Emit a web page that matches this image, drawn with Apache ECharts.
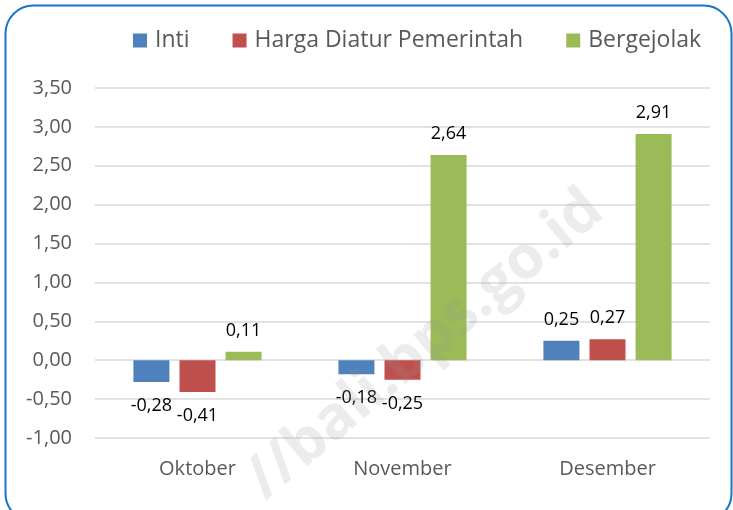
<!DOCTYPE html>
<html>
<head>
<meta charset="utf-8">
<script src="https://cdn.jsdelivr.net/npm/echarts@6/dist/echarts.min.js"></script>
<style>
    html, body { margin: 0; padding: 0; background: #fff; }
    #chart { width: 733px; height: 510px; }
</style>
</head>
<body>
<div id="chart"></div>
<script>
// data
var months = ['Oktober', 'November', 'Desember'];
var seriesNames = ['Inti', 'Harga Diatur Pemerintah', 'Bergejolak'];
var inti = [-0.28, -0.18, 0.25];
var hargaDiatur = [-0.41, -0.25, 0.27];
var bergejolak = [0.11, 2.64, 2.91];

const COLORS = ['#4F81BD', '#C0504D', '#9BBB59'];
const FONT = '"Open Sans", "Noto Sans", sans-serif';

var fmt = function (v) {
    return v.toFixed(2).replace('.', ',');
};

var makeSeries = function (name, values, color) {
    return {
        name: name,
        type: 'bar',
        barWidth: 36,
        barGap: '28%',
        itemStyle: { color: color },
        data: values.map(function (v) {
            return {
                value: v,
                label: {
                    show: true,
                    position: v < 0 ? 'bottom' : 'top',
                    distance: v < 0 ? 15 : 12,
                    color: '#000',
                    fontSize: 18,
                    fontFamily: FONT,
                    formatter: function (p) { return fmt(p.value); }
                }
            };
        })
    };
};

var chart = echarts.init(document.getElementById('chart'));
chart.setOption({
    animation: false,
    color: COLORS,
    textStyle: { fontFamily: FONT },
    legend: {
        top: 24,
        left: 128,
        itemWidth: 14,
        itemHeight: 14,
        itemGap: 43,
        icon: 'rect',
        textStyle: { fontSize: 23, color: '#595959', fontFamily: FONT, padding: [0, 0, 0, 3] },
        data: seriesNames
    },
    grid: { left: 95, right: 23, top: 88, bottom: 72 },
    xAxis: {
        type: 'category',
        data: months,
        axisLine: { show: false },
        axisTick: { show: false },
        axisLabel: { color: '#595959', fontSize: 20, margin: 21, fontFamily: FONT }
    },
    yAxis: {
        type: 'value',
        min: -1,
        max: 3.5,
        interval: 0.5,
        axisLine: { show: false },
        axisTick: { show: false },
        splitLine: { lineStyle: { color: '#d9d9d9', width: 1.5 } },
        axisLabel: {
            color: '#595959',
            fontSize: 20,
            margin: 23,
            fontFamily: FONT,
            formatter: function (v) { return fmt(v); }
        }
    },
    graphic: [
        {
            type: 'rect',
            left: 3,
            top: 3,
            shape: { width: 726, height: 516, r: 28 },
            style: { fill: 'none', stroke: '#1B75C6', lineWidth: 2 },
            z: 100
        },
        {
            type: 'text',
            x: 425,
            y: 345,
            rotation: Math.PI * 40 / 180,
            style: {
                text: '//bali.bps.go.id',
                fontSize: 60,
                fontWeight: 'bold',
                fontFamily: FONT,
                fill: 'rgba(150,150,150,0.18)',
                align: 'center',
                verticalAlign: 'middle'
            },
            z: 100
        }
    ],
    series: [
        makeSeries(seriesNames[0], inti, COLORS[0]),
        makeSeries(seriesNames[1], hargaDiatur, COLORS[1]),
        makeSeries(seriesNames[2], bergejolak, COLORS[2])
    ]
});
</script>
</body>
</html>
